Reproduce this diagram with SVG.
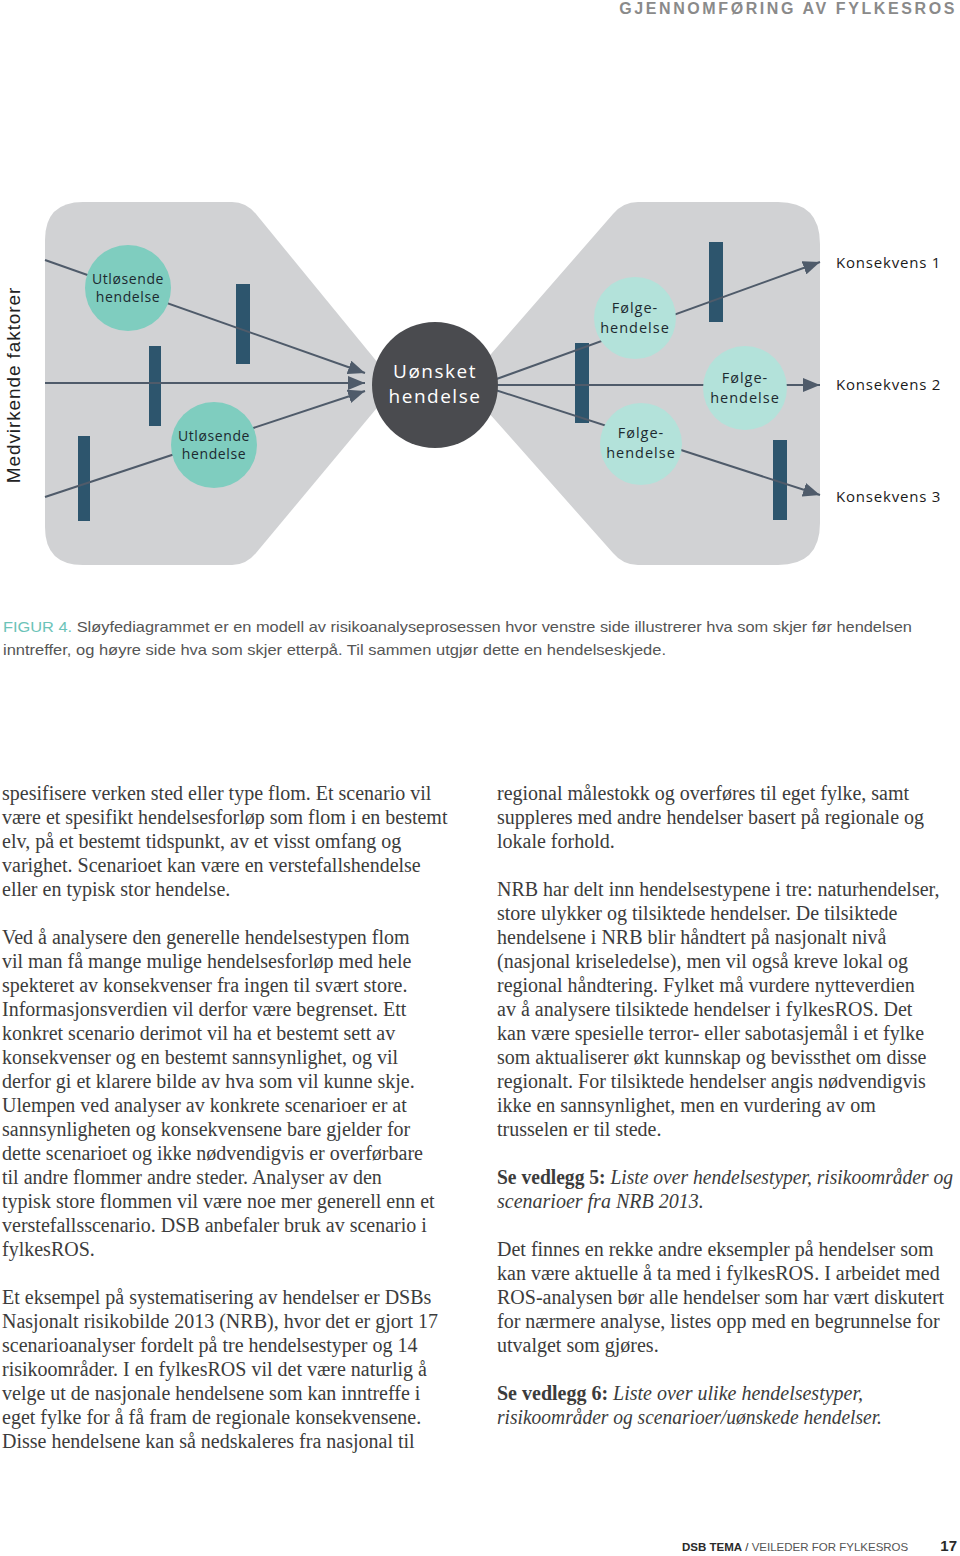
<svg xmlns="http://www.w3.org/2000/svg" width="960" height="1556" viewBox="0 0 960 1556">
<defs>
<style>
.bg{fill:#d1d2d4}
.bar{fill:#2d556d}
.ln{stroke:#4f5b6a;stroke-width:2;fill:none}
.cl{fill:#7fcdbf}
.cr{fill:#b3e2da}
.lbl{font-family:"Open Sans","Liberation Sans",sans-serif;font-size:14px;fill:#1c2a30;text-anchor:middle;letter-spacing:0.6px}
.lblr{font-family:"Open Sans","Liberation Sans",sans-serif;font-size:14.5px;fill:#1c2a30;text-anchor:middle;letter-spacing:1px}
.kon{font-family:"Open Sans","Liberation Sans",sans-serif;font-size:15px;fill:#1a1a1a;letter-spacing:0.8px}
.body{font-family:"Liberation Serif","DejaVu Serif",serif;font-size:20px;fill:#3c3c3c}
.cap{font-family:"Liberation Sans Narrow","Liberation Sans",sans-serif;font-size:15px;fill:#555}
</style>
<marker id="arr" markerUnits="userSpaceOnUse" markerWidth="18" markerHeight="14" refX="17" refY="7" orient="auto">
<path d="M0,0 L17,7 L0,14 Z" fill="#4f5b6a"/>
</marker>
</defs>
<rect width="960" height="1556" fill="#ffffff"/>

<text x="957" y="14" text-anchor="end" font-family="Liberation Sans,sans-serif" font-weight="bold" font-size="16" letter-spacing="2.6" fill="#8a8a8a">GJENNOMFØRING AV FYLKESROS</text>

<g id="background-shapes">
<path class="bg" d="M83 202 H232 Q246 202 256 214 L396 385 L256 553 Q246 565 232 565 H83 Q45 565 45 527 V240 Q45 202 83 202 Z"/>
<path class="bg" d="M464 385 L613 214 Q623 202 638 202 H778 Q820 202 820 244 V523 Q820 565 778 565 H638 Q623 565 613 553 Z"/>
</g>

<g id="barriers">
<rect class="bar" x="236" y="284" width="14" height="80"/>
<rect class="bar" x="149" y="346" width="12" height="80"/>
<rect class="bar" x="78" y="436" width="12" height="85"/>
<rect class="bar" x="575" y="343" width="14" height="80"/>
<rect class="bar" x="709" y="242" width="14" height="80"/>
<rect class="bar" x="773" y="440" width="14" height="80"/>
</g>

<g id="connectors">
<line class="ln" x1="45" y1="260" x2="365" y2="373" marker-end="url(#arr)"/>
<line class="ln" x1="45" y1="383" x2="365" y2="383" marker-end="url(#arr)"/>
<line class="ln" x1="45" y1="497" x2="365" y2="391" marker-end="url(#arr)"/>
<line class="ln" x1="480" y1="385" x2="820" y2="262" marker-end="url(#arr)"/>
<line class="ln" x1="480" y1="385" x2="820" y2="385" marker-end="url(#arr)"/>
<line class="ln" x1="480" y1="385" x2="820" y2="495" marker-end="url(#arr)"/>
</g>

<g id="medvirkende">
<text transform="translate(20 385) rotate(-90)" text-anchor="middle" font-family="Liberation Sans,sans-serif" font-size="19" letter-spacing="0.9" fill="#222">Medvirkende faktorer</text>
</g>

<g id="utlosende-1">
<circle class="cl" cx="128" cy="288" r="43"/>
<text class="lbl" x="128" y="284">Utløsende</text>
<text class="lbl" x="128" y="302">hendelse</text>
</g>
<g id="utlosende-2">
<circle class="cl" cx="214" cy="445" r="43"/>
<text class="lbl" x="214" y="441">Utløsende</text>
<text class="lbl" x="214" y="459">hendelse</text>
</g>

<g id="uonsket">
<circle cx="435" cy="385" r="63" fill="#4a4b4f"/>
<text x="435" y="378" text-anchor="middle" font-family="Open Sans,Liberation Sans,sans-serif" font-size="19" letter-spacing="1.5" fill="#ffffff">Uønsket</text>
<text x="435" y="403" text-anchor="middle" font-family="Open Sans,Liberation Sans,sans-serif" font-size="19" letter-spacing="1.5" fill="#ffffff">hendelse</text>
</g>

<g id="folge-1">
<circle class="cr" cx="635" cy="318" r="41"/>
<text class="lblr" x="635" y="313">Følge-</text>
<text class="lblr" x="635" y="333">hendelse</text>
</g>
<g id="folge-2">
<circle class="cr" cx="641" cy="444" r="41"/>
<text class="lblr" x="641" y="438">Følge-</text>
<text class="lblr" x="641" y="458">hendelse</text>
</g>
<g id="folge-3">
<circle class="cr" cx="745" cy="388" r="42"/>
<text class="lblr" x="745" y="383">Følge-</text>
<text class="lblr" x="745" y="403">hendelse</text>
</g>

<g id="konsekvenser">
<text class="kon" x="836" y="268">Konsekvens 1</text>
<text class="kon" x="836" y="390">Konsekvens 2</text>
<text class="kon" x="836" y="502">Konsekvens 3</text>
</g>

<g id="caption">
<text class="cap" x="3" y="632" textLength="909" lengthAdjust="spacingAndGlyphs"><tspan fill="#6cc3b8">FIGUR 4.</tspan> Sløyfediagrammet er en modell av risikoanalyseprosessen hvor venstre side illustrerer hva som skjer før hendelsen</text>
<text class="cap" x="3" y="655" textLength="663" lengthAdjust="spacingAndGlyphs">inntreffer, og høyre side hva som skjer etterpå. Til sammen utgjør dette en hendelseskjede.</text>
</g>

<g id="left-column">
<text class="body" x="2" y="800">spesifisere verken sted eller type flom. Et scenario vil</text>
<text class="body" x="2" y="824">være et spesifikt hendelsesforløp som flom i en bestemt</text>
<text class="body" x="2" y="848">elv, på et bestemt tidspunkt, av et visst omfang og</text>
<text class="body" x="2" y="872">varighet. Scenarioet kan være en verstefallshendelse</text>
<text class="body" x="2" y="896">eller en typisk stor hendelse.</text>
<text class="body" x="2" y="944">Ved å analysere den generelle hendelsestypen flom</text>
<text class="body" x="2" y="968">vil man få mange mulige hendelsesforløp med hele</text>
<text class="body" x="2" y="992">spekteret av konsekvenser fra ingen til svært store.</text>
<text class="body" x="2" y="1016">Informasjonsverdien vil derfor være begrenset. Ett</text>
<text class="body" x="2" y="1040">konkret scenario derimot vil ha et bestemt sett av</text>
<text class="body" x="2" y="1064">konsekvenser og en bestemt sannsynlighet, og vil</text>
<text class="body" x="2" y="1088">derfor gi et klarere bilde av hva som vil kunne skje.</text>
<text class="body" x="2" y="1112">Ulempen ved analyser av konkrete scenarioer er at</text>
<text class="body" x="2" y="1136">sannsynligheten og konsekvensene bare gjelder for</text>
<text class="body" x="2" y="1160">dette scenarioet og ikke nødvendigvis er overførbare</text>
<text class="body" x="2" y="1184">til andre flommer andre steder. Analyser av den</text>
<text class="body" x="2" y="1208">typisk store flommen vil være noe mer generell enn et</text>
<text class="body" x="2" y="1232">verstefallsscenario. DSB anbefaler bruk av scenario i</text>
<text class="body" x="2" y="1256">fylkesROS.</text>
<text class="body" x="2" y="1304">Et eksempel på systematisering av hendelser er DSBs</text>
<text class="body" x="2" y="1328">Nasjonalt risikobilde 2013 (NRB), hvor det er gjort 17</text>
<text class="body" x="2" y="1352">scenarioanalyser fordelt på tre hendelsestyper og 14</text>
<text class="body" x="2" y="1376">risikoområder. I en fylkesROS vil det være naturlig å</text>
<text class="body" x="2" y="1400">velge ut de nasjonale hendelsene som kan inntreffe i</text>
<text class="body" x="2" y="1424">eget fylke for å få fram de regionale konsekvensene.</text>
<text class="body" x="2" y="1448">Disse hendelsene kan så nedskaleres fra nasjonal til</text>
</g>

<g id="right-column">
<text class="body" x="497" y="800">regional målestokk og overføres til eget fylke, samt</text>
<text class="body" x="497" y="824">suppleres med andre hendelser basert på regionale og</text>
<text class="body" x="497" y="848">lokale forhold.</text>
<text class="body" x="497" y="896">NRB har delt inn hendelsestypene i tre: naturhendelser,</text>
<text class="body" x="497" y="920">store ulykker og tilsiktede hendelser. De tilsiktede</text>
<text class="body" x="497" y="944">hendelsene i NRB blir håndtert på nasjonalt nivå</text>
<text class="body" x="497" y="968">(nasjonal kriseledelse), men vil også kreve lokal og</text>
<text class="body" x="497" y="992">regional håndtering. Fylket må vurdere nytteverdien</text>
<text class="body" x="497" y="1016">av å analysere tilsiktede hendelser i fylkesROS. Det</text>
<text class="body" x="497" y="1040">kan være spesielle terror- eller sabotasjemål i et fylke</text>
<text class="body" x="497" y="1064">som aktualiserer økt kunnskap og bevissthet om disse</text>
<text class="body" x="497" y="1088">regionalt. For tilsiktede hendelser angis nødvendigvis</text>
<text class="body" x="497" y="1112">ikke en sannsynlighet, men en vurdering av om</text>
<text class="body" x="497" y="1136">trusselen er til stede.</text>
<text class="body" x="497" y="1184" textLength="456" lengthAdjust="spacingAndGlyphs"><tspan font-weight="bold">Se vedlegg 5:</tspan> <tspan font-style="italic">Liste over hendelsestyper, risikoområder og</tspan></text>
<text class="body" x="497" y="1208" font-style="italic">scenarioer fra NRB 2013.</text>
<text class="body" x="497" y="1256">Det finnes en rekke andre eksempler på hendelser som</text>
<text class="body" x="497" y="1280">kan være aktuelle å ta med i fylkesROS. I arbeidet med</text>
<text class="body" x="497" y="1304">ROS-analysen bør alle hendelser som har vært diskutert</text>
<text class="body" x="497" y="1328">for nærmere analyse, listes opp med en begrunnelse for</text>
<text class="body" x="497" y="1352">utvalget som gjøres.</text>
<text class="body" x="497" y="1400"><tspan font-weight="bold">Se vedlegg 6:</tspan> <tspan font-style="italic">Liste over ulike hendelsestyper,</tspan></text>
<text class="body" x="497" y="1424" font-style="italic" textLength="385" lengthAdjust="spacingAndGlyphs">risikoområder og scenarioer/uønskede hendelser.</text>
</g>

<g id="footer">
<text x="682" y="1551" font-family="Liberation Sans,sans-serif" font-size="11.5" fill="#555"><tspan font-weight="bold" fill="#2a2a2a">DSB TEMA</tspan><tspan fill="#2a2a2a"> / </tspan>VEILEDER FOR FYLKESROS</text>
<text x="957" y="1551" text-anchor="end" font-family="Liberation Sans,sans-serif" font-size="15" font-weight="bold" fill="#2a2a2a">17</text>
</g>
</svg>
